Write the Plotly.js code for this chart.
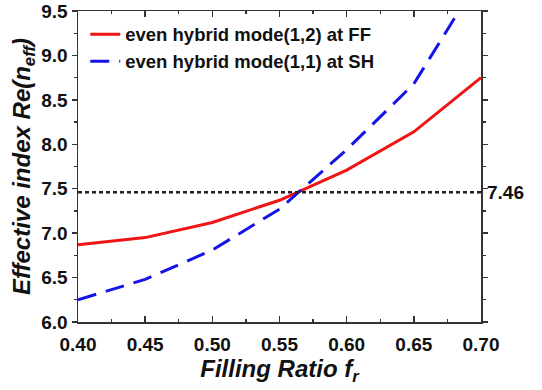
<!DOCTYPE html>
<html>
<head>
<meta charset="utf-8">
<script src="https://cdn.plot.ly/plotly-3.0.1.min.js"></script>
<style>html,body{margin:0;padding:0;background:#fff;}#chart{width:542px;height:390px;}</style>
</head>
<body>
<div id="chart"></div>
<script>
// Data
var fillingRatio = [0.40, 0.45, 0.50, 0.55, 0.60, 0.65, 0.70];
var modeFF = [6.87, 6.95, 7.12, 7.37, 7.71, 8.14, 8.75];   // even hybrid mode(1,2) at FF
var modeSH = [6.25, 6.48, 6.81, 7.27, 7.94, 8.68, 9.90];   // even hybrid mode(1,1) at SH
var refValue = 7.46;
var refX = [0.40, 0.70];
var refY = [refValue, refValue];
var legendNames = ['even hybrid mode(1,2) at FF', 'even hybrid mode(1,1) at SH'];

var FONT = 'Liberation Sans, Arial, Helvetica, sans-serif';

var traces = [
  {x: fillingRatio, y: modeFF, name: legendNames[0], mode: 'lines', type: 'scatter',
   line: {color: '#f01414', width: 3}},
  {x: fillingRatio, y: modeSH, name: legendNames[1], mode: 'lines', type: 'scatter',
   line: {color: '#1414e6', width: 3, dash: '19px,10px'}},
  {x: refX, y: refY, mode: 'lines', type: 'scatter', showlegend: false,
   line: {color: '#222', width: 2.5, dash: '4px,3px'}}
];

var axisCommon = {
  showline: true, linecolor: '#333', linewidth: 1.5, mirror: 'ticks',
  showgrid: false, zeroline: false, tickcolor: '#333', tickwidth: 1.5,
  tickfont: {family: FONT, size: 19, color: '#111', weight: 'bold'}
};

var layout = {
  width: 542, height: 390,
  margin: {l: 78, r: 61, t: 11, b: 68},
  paper_bgcolor: '#fff', plot_bgcolor: '#fff',
  showlegend: true,
  legend: {x: 0.018, y: 0.985, xanchor: 'left', yanchor: 'top', bgcolor: 'rgba(0,0,0,0)',
           font: {family: FONT, size: 18.5, color: '#111', weight: 'bold'}},
  xaxis: Object.assign({}, axisCommon, {
    range: [0.40, 0.70], tickmode: 'linear', tick0: 0.40, dtick: 0.05, tickformat: '.2f',
    ticks: 'inside', ticklen: 6, ticklabelstandoff: 5,
    minor: {dtick: 0.025, ticks: 'inside', ticklen: 3, tickcolor: '#333', tickwidth: 1.2},
    title: {text: 'Filling Ratio f<sub>r</sub>', standoff: 6,
            font: {family: FONT, size: 24, color: '#111', weight: 'bold', style: 'italic'}}
  }),
  yaxis: Object.assign({}, axisCommon, {
    range: [6.0, 9.5], tickmode: 'linear', tick0: 6.0, dtick: 0.5, tickformat: '.1f',
    ticks: 'outside', ticklen: 5,
    minor: {dtick: 0.25, ticks: 'outside', ticklen: 3, tickcolor: '#333', tickwidth: 1.2},
    title: {text: 'Effective index Re(n<sub>eff</sub>)', standoff: 4,
            font: {family: FONT, size: 24, color: '#111', weight: 'bold', style: 'italic'}}
  }),
  annotations: [
    {xref: 'paper', yref: 'y', x: 1, y: refValue, xanchor: 'left', yanchor: 'middle', xshift: 4,
     text: String(refValue), showarrow: false,
     font: {family: FONT, size: 19, color: '#111', weight: 'bold'}}
  ]
};

Plotly.newPlot('chart', traces, layout, {displayModeBar: false, staticPlot: true});
</script>
</body>
</html>
